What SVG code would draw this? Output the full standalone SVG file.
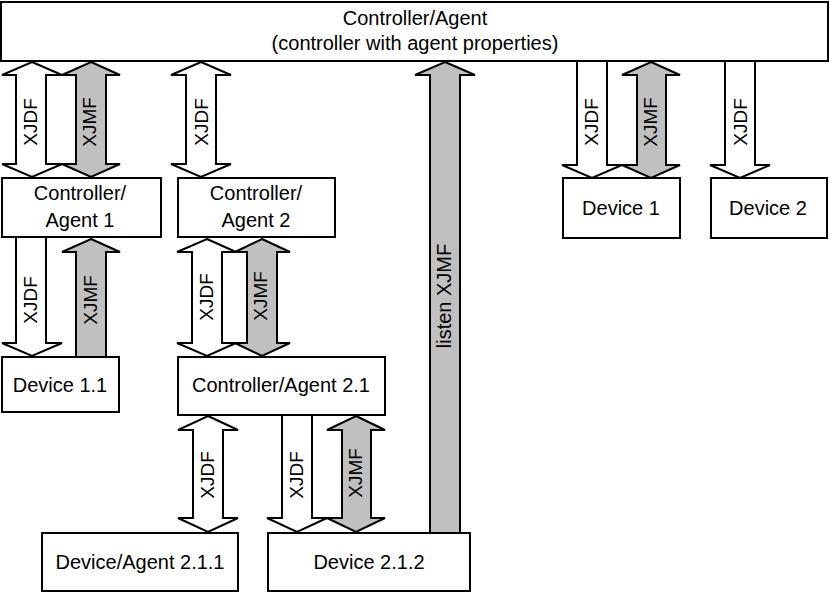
<svg xmlns="http://www.w3.org/2000/svg" width="830" height="594" viewBox="0 0 830 594">
<style>
.box{fill:#fff;stroke:#000;stroke-width:2}
.w{fill:#fff;stroke:#000;stroke-width:2;stroke-linejoin:miter}
.g{fill:#c0c0c0;stroke:#000;stroke-width:2;stroke-linejoin:miter}
text{font-family:"Liberation Sans",Arial,sans-serif;font-size:20px;fill:#000;text-anchor:middle}
.lbl{font-size:19px}
</style>
<rect x="0" y="0" width="830" height="594" fill="#fff"/>
<g id="connectors">
<rect class="w" x="46" y="75" width="30" height="89"/>
<polygon class="w" points="32,62 62,75 46,75 46,164 62,164 32,177 2,164 16,164 16,75 2,75"/>
<polygon class="g" points="91,62 120,75 106,75 106,164 120,164 91,177 62,164 76,164 76,75 62,75"/>
<text class="lbl" transform="translate(37,122) rotate(-90)">XJDF</text>
<text class="lbl" transform="translate(96,122) rotate(-90)">XJMF</text>

<polygon class="w" points="16,237 46,237 46,343 62,343 32,356 2,343 16,343"/>
<polygon class="g" points="91,239 120,252 106,252 106,357 76,357 76,252 62,252"/>
<text class="lbl" transform="translate(37,300) rotate(-90)">XJDF</text>
<text class="lbl" transform="translate(97,300) rotate(-90)">XJMF</text>

<polygon class="w" points="201,62 231,75 216,75 216,164 231,164 201,177 171,164 186,164 186,75 171,75"/>
<text class="lbl" transform="translate(208,122) rotate(-90)">XJDF</text>

<rect class="w" x="222" y="252" width="25" height="91"/>
<polygon class="w" points="207,239 236,252 222,252 222,343 236,343 207,356 177,343 192,343 192,252 177,252"/>
<polygon class="g" points="262,239 290,252 277,252 277,343 290,343 262,356 235,343 247,343 247,252 235,252"/>
<text class="lbl" transform="translate(213,297) rotate(-90)">XJDF</text>
<text class="lbl" transform="translate(267,296) rotate(-90)">XJMF</text>

<polygon class="w" points="208,416 238,430 223,430 223,518 238,518 208,532 178,518 193,518 193,430 178,430"/>
<text class="lbl" transform="translate(214,475) rotate(-90)">XJDF</text>

<polygon class="w" points="282,415 312,415 312,518 327,518 297,532 267,518 282,518"/>
<text class="lbl" transform="translate(303,475) rotate(-90)">XJDF</text>
<polygon class="g" points="356,416 385,430 371,430 371,518 385,518 356,532 327,518 342,518 342,430 327,430"/>
<text class="lbl" transform="translate(362,473) rotate(-90)">XJMF</text>

<polygon class="g" points="445,62 475,75 460,75 460,533 430,533 430,75 415,75"/>
<text transform="translate(451,296) rotate(-90)">listen XJMF</text>

<polygon class="w" points="577,61 607,61 607,165 622,165 592,178 562,165 577,165"/>
<polygon class="g" points="651,62 680,75 666,75 666,165 680,165 651,178 622,165 637,165 637,75 622,75"/>
<text class="lbl" transform="translate(598,122) rotate(-90)">XJDF</text>
<text class="lbl" transform="translate(657,122) rotate(-90)">XJMF</text>

<polygon class="w" points="725,61 755,61 755,165 770,165 740,178 710,165 725,165"/>
<text class="lbl" transform="translate(747,122) rotate(-90)">XJDF</text>
</g>
<g id="controller-agent">
<rect class="box" x="1" y="2" width="827" height="59"/>
<text x="415" y="25">Controller/Agent</text>
<text x="415" y="50">(controller with agent properties)</text>
</g>
<g id="controller-agent-1">
<rect class="box" x="2" y="178" width="159" height="59"/>
<text x="80" y="200">Controller/</text>
<text x="80" y="227">Agent 1</text>
</g>
<g id="device-1-1">
<rect class="box" x="2" y="357" width="117" height="55"/>
<text x="60" y="392">Device 1.1</text>
</g>
<g id="controller-agent-2">
<rect class="box" x="178" y="178" width="157" height="59"/>
<text x="256" y="200">Controller/</text>
<text x="256" y="227">Agent 2</text>
</g>
<g id="controller-agent-2-1">
<rect class="box" x="178" y="357" width="207" height="58"/>
<text x="281" y="392">Controller/Agent 2.1</text>
</g>
<g id="device-agent-2-1-1">
<rect class="box" x="42" y="533" width="196" height="58"/>
<text x="140" y="569">Device/Agent 2.1.1</text>
</g>
<g id="device-2-1-2">
<rect class="box" x="268" y="533" width="202" height="58"/>
<text x="369" y="569">Device 2.1.2</text>
</g>
<g id="device-1">
<rect class="box" x="563" y="178" width="117" height="60"/>
<text x="621" y="215">Device 1</text>
</g>
<g id="device-2">
<rect class="box" x="711" y="178" width="116" height="60"/>
<text x="768" y="215">Device 2</text>
</g>
</svg>
